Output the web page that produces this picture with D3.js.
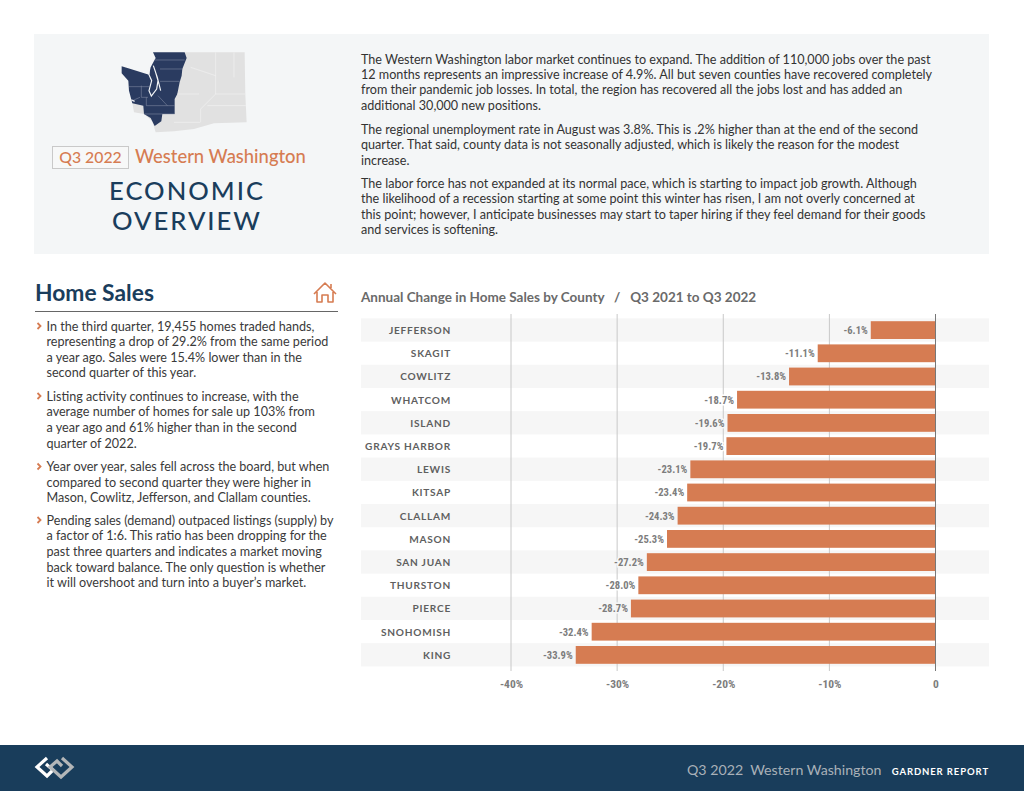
<!DOCTYPE html>
<html><head><meta charset="utf-8">
<script src="https://cdn.jsdelivr.net/npm/d3@7"></script>
<style>html,body{margin:0;padding:0;background:#fff;overflow:hidden}svg{display:block}text{font-family:Lato,"Open Sans",sans-serif}</style>
</head><body><svg id="c" width="1024" height="791"></svg>
<script>
const counties=["JEFFERSON","SKAGIT","COWLITZ","WHATCOM","ISLAND","GRAYS HARBOR","LEWIS","KITSAP","CLALLAM","MASON","SAN JUAN","THURSTON","PIERCE","SNOHOMISH","KING"];
const changes=[-6.1,-11.1,-13.8,-18.7,-19.6,-19.7,-23.1,-23.4,-24.3,-25.3,-27.2,-28.0,-28.7,-32.4,-33.9];
const tickValues=[-40,-30,-20,-10,0];
const introLines=[
 ["The Western Washington labor market continues to expand. The addition of 110,000 jobs over the past",64],
 ["12 months represents an impressive increase of 4.9%. All but seven counties have recovered completely",79],
 ["from their pandemic job losses. In total, the region has recovered all the jobs lost and has added an",94],
 ["additional 30,000 new positions.",110],
 ["The regional unemployment rate in August was 3.8%. This is .2% higher than at the end of the second",134],
 ["quarter. That said, county data is not seasonally adjusted, which is likely the reason for the modest",149],
 ["increase.",165],
 ["The labor force has not expanded at its normal pace, which is starting to impact job growth. Although",188],
 ["the likelihood of a recession starting at some point this winter has risen, I am not overly concerned at",203],
 ["this point; however, I anticipate businesses may start to taper hiring if they feel demand for their goods",219],
 ["and services is softening.",234]];
const bulletLines=[
 ["In the third quarter, 19,455 homes traded hands,",330.5,1],
 ["representing a drop of 29.2% from the same period",346,0],
 ["a year ago. Sales were 15.4% lower than in the",361.5,0],
 ["second quarter of this year.",377,0],
 ["Listing activity continues to increase, with the",400.5,1],
 ["average number of homes for sale up 103% from",416,0],
 ["a year ago and 61% higher than in the second",432,0],
 ["quarter of 2022.",447.5,0],
 ["Year over year, sales fell across the board, but when",471,1],
 ["compared to second quarter they were higher in",486.5,0],
 ["Mason, Cowlitz, Jefferson, and Clallam counties.",502,0],
 ["Pending sales (demand) outpaced listings (supply) by",524.5,1],
 ["a factor of 1:6. This ratio has been dropping for the",540,0],
 ["past three quarters and indicates a market moving",556,0],
 ["back toward balance. The only question is whether",571.5,0],
 ["it will overshoot and turn into a buyer\u2019s market.",587,0]];

const navy="#1a3d5c",orange="#d67c52",svg=d3.select("#c");
const narrow='"Liberation Sans Narrow","Roboto Condensed",sans-serif';
svg.append("rect").attr("x",34).attr("y",34).attr("width",955).attr("height",220).attr("fill","#f4f6f7");

// Map
const mapG=svg.append("g").attr("transform","translate(34,34) scale(0.3333)");
mapG.append("path").attr("fill","#e1e1e1").attr("d","M452,55L632,55L634,180L638,265L540,268L480,285L420,292L365,295L355,262L330,240L300,235L295,205L430,180Z");
mapG.append("path").attr("fill","#2a3b60").attr("d","M357,55L452,55L458,72L445,105L443,125L437,145L430,180L422,195L422,240L385,240L382,262L362,276L350,252L330,240L328,215L295,208L285,170L283,140L263,118L263,97L290,105L345,122L350,100L358,85L365,72Z");
const mapLines=["M362,78L452,78","M378,105L445,105","M378,142L437,142","M285,158L322,158L345,158","M322,155L322,190L342,190","M337,190L337,215L422,215","M330,240L422,240","M372,185L400,215","M295,200L318,190"];
mapG.selectAll(".ml").data(mapLines).join("path").attr("d",d=>d).attr("fill","none").attr("stroke","#8d96ad").attr("stroke-width",1.5);
mapG.append("path").attr("fill","none").attr("stroke","#f4f6f7").attr("stroke-width",3.5)
 .attr("d","M347,60L345,122L353,140L345,170L352,186L368,165L372,140L364,112L358,95L370,130L380,170");
mapG.append("path").attr("fill","none").attr("stroke","#e8e9ef").attr("stroke-width",4).attr("d","M292,198L302,202");
const mapGreyLines=["M545,55L545,180L500,225L500,265","M600,55L600,130","M545,180L634,180","M520,215L636,215","M420,265L498,265","M470,100L545,125","M430,180L495,180"];
mapG.selectAll(".gl").data(mapGreyLines).join("path").attr("d",d=>d).attr("fill","none").attr("stroke","#f2f2f2").attr("stroke-width",2);

// Header
svg.append("rect").attr("x",52.5).attr("y",146.5).attr("width",76).attr("height",22).attr("fill","#f7f8f8").attr("stroke","#c9c9c9");
svg.append("text").attr("x",90.5).attr("y",162.5).attr("text-anchor","middle").attr("font-size",15.8).attr("font-weight",500).attr("fill",orange).text("Q3 2022");
svg.append("text").attr("x",135).attr("y",163).attr("font-size",18.4).attr("font-weight",500).attr("fill",orange).text("Western Washington");
svg.selectAll(".h").data([["ECONOMIC",200],["OVERVIEW",230]]).join("text").attr("x",187).attr("y",d=>d[1])
 .attr("text-anchor","middle").attr("font-size",25.6).attr("font-weight",500).attr("letter-spacing",2).attr("fill",navy).text(d=>d[0]);

svg.selectAll(".intro").data(introLines).join("text").attr("x",361).attr("y",d=>d[1]).attr("font-size",12.6).attr("fill","#333").text(d=>d[0]);

// Left column
svg.append("text").attr("x",35).attr("y",301).attr("font-size",22.8).attr("font-weight",700).attr("fill",navy).text("Home Sales");
svg.append("line").attr("x1",35).attr("x2",338).attr("y1",311.5).attr("y2",311.5).attr("stroke","#666").attr("stroke-width",1.2);
svg.append("path").attr("fill","none").attr("stroke",orange).attr("stroke-width",1.6).attr("stroke-linejoin","round")
 .attr("d","M314,294L325,283L336,294M317,292L317,302L322,302L322,295L328,295L328,302L333,302L333,292M331,284L331,288");
svg.selectAll(".bl").data(bulletLines).join("text").attr("x",46.5).attr("y",d=>d[1]).attr("font-size",12.6).attr("fill","#3a3a3a").text(d=>d[0]);
svg.selectAll(".bu").data(bulletLines.filter(d=>d[2])).join("path")
 .attr("d",d=>`M37.5,${d[1]-7.5}L40.5,${d[1]-4.5}L37.5,${d[1]-1.5}`).attr("fill","none").attr("stroke",orange).attr("stroke-width",1.8);

// Chart
svg.append("text").attr("x",361).attr("y",302).attr("font-size",13.5).attr("font-weight",700).attr("fill","#6a6a6a").attr("xml:space","preserve").text("Annual Change in Home Sales by County   /   Q3 2021 to Q3 2022");
const x=d3.scaleLinear().domain([-40,0]).range([511,935.5]);
const y=d3.scaleBand().domain(counties).range([318.4,666.4]).paddingInner(0).paddingOuter(0);
const isBand=c=>counties.indexOf(c)%2===0;
svg.selectAll(".band").data(counties.filter(isBand)).join("rect").attr("x",361).attr("width",628).attr("y",d=>y(d)).attr("height",y.bandwidth()).attr("fill","#f6f6f6");
const axis=d3.axisBottom(x).tickValues(tickValues).tickSize(0).tickFormat(d=>d===0?"0":d+"%");
const ag=svg.append("g").attr("transform","translate(0,677)").call(axis);
ag.select(".domain").remove();
ag.selectAll("text").attr("y",3).attr("dy","0.71em").attr("font-size",11.5).attr("font-weight",700).attr("fill","#7d7d7d").style("font-family",narrow);
svg.selectAll(".grid").data(tickValues).join("line").attr("x1",d=>x(d)).attr("x2",d=>x(d)).attr("y1",314).attr("y2",671)
 .attr("stroke",d=>d===0?"#777":"#c8c8c8").attr("stroke-width",1);
const data=counties.map((c,i)=>({c,v:changes[i]}));
svg.selectAll(".lab").data(data).join("text").attr("text-anchor","end")
 .attr("x",451).attr("y",d=>y(d.c)+y.bandwidth()/2+4).attr("font-size",10.1).attr("font-weight",700).attr("letter-spacing",0.75).attr("fill","#5f5f5f").text(d=>d.c);
svg.selectAll(".bar").data(data).join("rect").attr("x",d=>x(d.v)).attr("width",d=>x(0)-x(d.v)).attr("y",d=>y(d.c)+2.8).attr("height",y.bandwidth()-5.4).attr("fill",orange);
svg.append("line").attr("x1",x(0)).attr("x2",x(0)).attr("y1",314).attr("y2",671).attr("stroke","#777");
svg.selectAll(".val").data(data).join("text").attr("x",d=>x(d.v)-3).attr("text-anchor","end").attr("y",d=>y(d.c)+y.bandwidth()/2+4)
 .attr("font-size",10.6).attr("font-weight",700).attr("fill","#7d7d7d").attr("stroke",d=>isBand(d.c)?"#f6f6f6":"#fff").attr("stroke-width",3).attr("paint-order","stroke")
 .style("font-family",narrow).text(d=>d.v.toFixed(1)+"%");

// Footer
svg.append("rect").attr("x",0).attr("y",745).attr("width",1024).attr("height",46).attr("fill","#193d5b");
svg.append("path").attr("fill","none").attr("stroke","#fff").attr("stroke-width",3.2).attr("d","M47,758L37,767L47,776L53,770L46,764");
svg.append("path").attr("fill","none").attr("stroke","#b3b6b8").attr("stroke-width",3.2).attr("d","M62,758L72,767L61,777L50,767L57,761L62,766");
svg.append("text").attr("x",687).attr("y",775).attr("font-size",14.2).attr("fill","#a9b1b8").attr("xml:space","preserve").text("Q3 2022  Western Washington");
svg.append("text").attr("x",989).attr("y",775).attr("text-anchor","end").attr("font-size",9.5).attr("font-weight",700).attr("letter-spacing",0.9).attr("fill","#fff").text("GARDNER REPORT");
</script></body></html>
